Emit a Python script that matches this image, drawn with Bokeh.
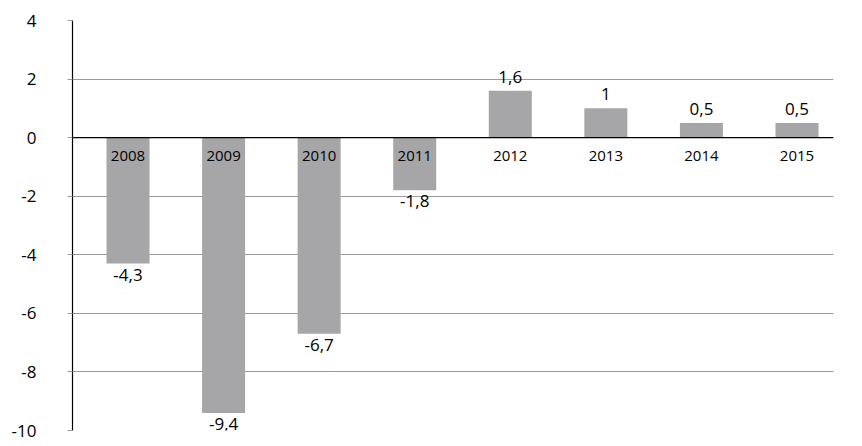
from bokeh.plotting import figure
from bokeh.models import ColumnDataSource, Range1d, FixedTicker, Span
from bokeh.core.properties import value
from bokeh.embed import file_html
from bokeh.resources import INLINE

# Data
years = ["2008", "2009", "2010", "2011", "2012", "2013", "2014", "2015"]
growth = [-4.3, -9.4, -6.7, -1.8, 1.6, 1.0, 0.5, 0.5]
y_ticks = [-10, -8, -6, -4, -2, 0, 2, 4]

xs = list(range(len(years)))
labels = [f"{v:g}".replace(".", ",") for v in growth]
zeros = [0] * len(years)

FONT = "Open Sans"

p = figure(width=850, height=440, output_backend="svg", toolbar_location=None,
           x_range=Range1d(-0.581, 7.382), y_range=Range1d(-10, 4),
           min_border_left=72, min_border_right=17, min_border_top=20, min_border_bottom=10)
p.outline_line_color = None
p.background_fill_color = "white"
p.border_fill_color = "white"

src = ColumnDataSource(dict(x=xs, top=growth, zero=zeros, year=years, lab=labels))
pos = ColumnDataSource(dict(x=[x for x, v in zip(xs, growth) if v >= 0],
                            y=[v for v in growth if v >= 0],
                            lab=[l for l, v in zip(labels, growth) if v >= 0]))
neg = ColumnDataSource(dict(x=[x for x, v in zip(xs, growth) if v < 0],
                            y=[v for v in growth if v < 0],
                            lab=[l for l, v in zip(labels, growth) if v < 0]))

# grid
p.xgrid.visible = False
p.ygrid.grid_line_color = "#9b9b9b"
p.ygrid.grid_line_width = 1.2

p.vbar(x="x", top="top", bottom="zero", width=0.45, source=src,
       fill_color="#a6a6a9", line_color=None)

p.add_layout(Span(location=0, dimension="width", line_color="black", line_width=1.3))

# axes
p.xaxis.visible = False
p.yaxis.ticker = FixedTicker(ticks=y_ticks)
p.yaxis.major_label_overrides = {t: str(t) for t in y_ticks}
p.yaxis.axis_line_color = "black"
p.yaxis.axis_line_width = 1.2
p.yaxis.major_tick_line_color = "#9b9b9b"
p.yaxis.major_tick_out = 5
p.yaxis.major_tick_in = 0
p.yaxis.minor_tick_line_color = None
p.yaxis.major_label_standoff = 31
p.yaxis.major_label_text_font = FONT
p.yaxis.major_label_text_font_size = "17px"
p.yaxis.major_label_text_color = "black"

# year labels below zero line
p.text(x="x", y="zero", text="year", source=src, text_font=value(FONT),
       text_font_size="15px", text_align="center", text_baseline="middle",
       y_offset=18, text_color="black")

# value labels
p.text(x="x", y="y", text="lab", source=pos, text_font=value(FONT),
       text_font_size="17px", text_align="center", text_baseline="bottom",
       y_offset=-8, text_color="black")
p.text(x="x", y="y", text="lab", source=neg, text_font=value(FONT),
       text_font_size="17px", text_align="center", text_baseline="top",
       y_offset=5, text_color="black")

open("out.html", "w").write(file_html(p, INLINE))
